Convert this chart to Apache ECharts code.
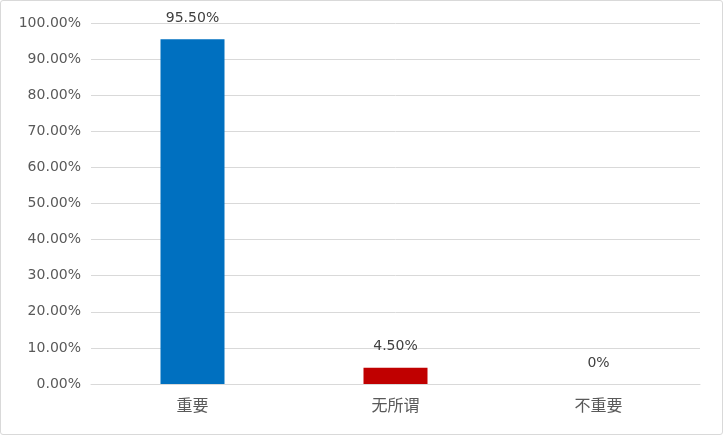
<!DOCTYPE html>
<html>
<head>
<meta charset="utf-8">
<script src="https://cdn.jsdelivr.net/npm/echarts@6/dist/echarts.min.js"></script>
<style>
html,body{margin:0;padding:0;background:#fff;}
#wrap{position:absolute;left:0;top:0;width:721px;height:433px;border:1px solid #d9d9d9;border-radius:3px;}
#c{width:721px;height:433px;}
</style>
</head>
<body>
<div id="wrap"><div id="c"></div></div>
<script>
const categories = ['重要', '无所谓', '不重要'];
const values = [95.5, 4.5, 0];
const valueLabels = ['95.50%', '4.50%', '0%'];
const barColors = ['#0070c0', '#c00000', '#a5a5a5'];

const chart = echarts.init(document.getElementById('c'));
chart.setOption({
  animation: false,
  grid: { left: 90, right: 22, top: 22, bottom: 50 },
  xAxis: {
    type: 'category',
    data: categories,
    axisLine: { lineStyle: { color: '#d9d9d9' } },
    axisTick: { show: false },
    axisLabel: { color: '#595959', fontSize: 16, margin: 13, fontFamily: 'Noto Sans CJK SC' }
  },
  yAxis: {
    type: 'value',
    min: 0, max: 100, interval: 10,
    axisLine: { show: false },
    axisTick: { show: false },
    splitLine: { lineStyle: { color: '#d9d9d9' } },
    axisLabel: {
      color: '#595959', fontSize: 14, margin: 10,
      fontFamily: 'DejaVu Sans',
      formatter: v => v.toFixed(2) + '%'
    }
  },
  series: [{
    type: 'bar',
    data: values.map((v, i) => ({ value: v, itemStyle: { color: barColors[i] } })),
    barWidth: 64,
    label: {
      show: true, position: 'top', distance: 14,
      color: '#404040', fontSize: 14, fontFamily: 'DejaVu Sans',
      formatter: p => valueLabels[p.dataIndex]
    }
  }]
});
</script>
</body>
</html>
